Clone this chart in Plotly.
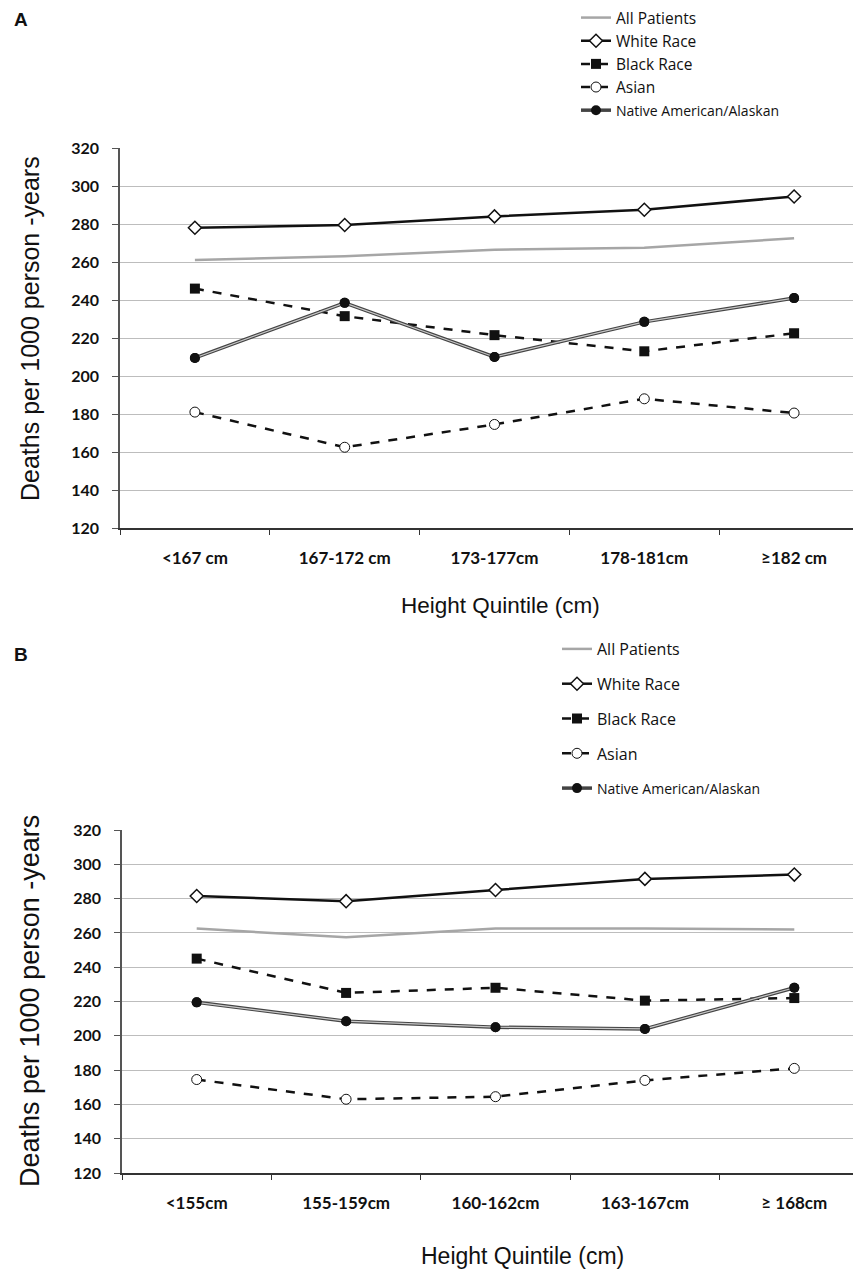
import plotly.graph_objects as go

# ---------------- data ----------------
cats_a = ["<167 cm", "167-172 cm", "173-177cm", "178-181cm", "≥182 cm"]
cats_b = ["<155cm", "155-159cm", "160-162cm", "163-167cm", "≥ 168cm"]

all_a = [261, 263, 266.5, 267.5, 272.5]
white_a = [278, 279.5, 284, 287.5, 294.5]
black_a = [246, 231.5, 221.5, 213, 222.5]
asian_a = [181, 162.5, 174.5, 188, 180.5]
native_a = [209.5, 238.5, 210, 228.5, 241]

all_b = [262.5, 257.5, 262.5, 262.5, 262]
white_b = [281.5, 278.5, 285, 291.5, 294]
black_b = [245, 225, 228, 220.5, 222]
asian_b = [174.5, 163, 164.5, 174, 181]
native_b = [219.5, 208.5, 205, 204, 228]

names = ["All Patients", "White Race", "Black Race", "Asian",
         "<span style='font-size:14px'>Native American/Alaskan</span>"]

LEG_FONT = "Open Sans"
TICK_FONT = "Lato"
TITLE_FONT = "Liberation Sans"

fig = go.Figure()


def add_panel(xa, ya, leg, cats, allp, white, black, asian, native, grp):
    common = dict(xaxis=xa, yaxis=ya, legend=leg, hoverinfo="skip")
    fig.add_trace(go.Scatter(x=cats, y=allp, name=names[0], mode="lines",
                             line=dict(color="#a6a6a6", width=2.5),
                             legendgroup=grp + "1", **common))
    fig.add_trace(go.Scatter(x=cats, y=white, name=names[1], mode="lines+markers",
                             line=dict(color="#111111", width=2.5),
                             marker=dict(symbol="diamond", size=10, color="white",
                                         line=dict(color="#111111", width=1.5)),
                             legendgroup=grp + "2", **common))
    fig.add_trace(go.Scatter(x=cats, y=black, name=names[2], mode="lines+markers",
                             line=dict(color="#111111", width=2.5, dash="dash"),
                             marker=dict(symbol="square", size=10, color="#111111"),
                             legendgroup=grp + "3", **common))
    fig.add_trace(go.Scatter(x=cats, y=asian, name=names[3], mode="lines+markers",
                             line=dict(color="#111111", width=2.5, dash="dash"),
                             marker=dict(symbol="circle", size=10, color="white",
                                         line=dict(color="#111111", width=1)),
                             legendgroup=grp + "4", **common))
    fig.add_trace(go.Scatter(x=cats, y=native, name=names[4], mode="lines+markers",
                             line=dict(color="#444444", width=3.5),
                             marker=dict(symbol="circle", size=10, color="#111111"),
                             legendgroup=grp + "5", **common))
    fig.add_trace(go.Scatter(x=cats, y=native, mode="lines", showlegend=False,
                             line=dict(color="#c8c8c8", width=1.2),
                             legendgroup=grp + "5", **common))
    fig.add_trace(go.Scatter(x=cats, y=native, mode="markers", showlegend=False,
                             marker=dict(symbol="circle", size=10, color="#111111"),
                             legendgroup=grp + "5", **common))


add_panel("x", "y", "legend", cats_a, all_a, white_a, black_a, asian_a, native_a, "a")
add_panel("x2", "y2", "legend2", cats_b, all_b, white_b, black_b, asian_b, native_b, "b")

W, H = 861, 1277
OFF = 8  # page body margin


def py(p):
    return 1 - (p - OFF) / H


def px(p):
    return (p - OFF) / W


yax = dict(range=[120, 320], dtick=20, showgrid=True, gridcolor="#bdbdbd", gridwidth=1,
           showline=True, linecolor="#555555", linewidth=1.5, ticks="outside", ticklen=6,
           tickcolor="#555555", zeroline=False, ticklabelstandoff=10,
           tickfont=dict(family=TICK_FONT, size=16, color="#111111", weight="bold"))
xax = dict(showgrid=False, showline=True, linecolor="#333333", linewidth=1.5,
           ticks="outside", ticklen=5, tickcolor="#333333", tickson="boundaries",
           ticklabelstandoff=14,
           tickfont=dict(family=TICK_FONT, size=17, color="#111111", weight="bold"),
           zeroline=False)

fig.update_layout(
    width=W, height=H,
    margin=dict(l=0, r=0, t=0, b=0, autoexpand=False),
    paper_bgcolor="white", plot_bgcolor="white",
    xaxis=dict(domain=[px(120), 1], range=[-0.5, 4.5], anchor="y", **xax),
    yaxis=dict(domain=[py(528), py(148)], anchor="x", **yax),
    xaxis2=dict(domain=[px(122), 1], range=[-0.5, 4.5], anchor="y2", **xax),
    yaxis2=dict(domain=[py(1173), py(830)], anchor="x2", **yax),
    legend=dict(x=px(576), y=py(1), xanchor="left", yanchor="top", traceorder="normal",
                font=dict(family=LEG_FONT, size=15.5, color="#111111"),
                bgcolor="rgba(0,0,0,0)", itemwidth=30),
    legend2=dict(x=px(557), y=py(632), xanchor="left", yanchor="top", traceorder="grouped",
                 tracegroupgap=11,
                 font=dict(family=LEG_FONT, size=16, color="#111111"),
                 bgcolor="rgba(0,0,0,0)", itemwidth=30),
    showlegend=True,
)

ann = []
ann.append(dict(text="<b>A</b>", x=px(12), y=py(20), xref="paper", yref="paper",
                showarrow=False, xanchor="left", yanchor="middle",
                font=dict(family=TITLE_FONT, size=19, color="#111111")))
ann.append(dict(text="<b>B</b>", x=px(12), y=py(654), xref="paper", yref="paper",
                showarrow=False, xanchor="left", yanchor="middle",
                font=dict(family=TITLE_FONT, size=19, color="#111111")))
ann.append(dict(text="Deaths per 1000 person -years", x=px(30), y=py(329), xref="paper",
                yref="paper", showarrow=False, textangle=-90, xanchor="center",
                yanchor="middle", font=dict(family=TITLE_FONT, size=25, color="#111111")))
ann.append(dict(text="Deaths per 1000 person -years", x=px(30), y=py(1001), xref="paper",
                yref="paper", showarrow=False, textangle=-90, xanchor="center",
                yanchor="middle", font=dict(family=TITLE_FONT, size=27, color="#111111")))
ann.append(dict(text="Height Quintile (cm)", x=px(501), y=py(606), xref="paper",
                yref="paper", showarrow=False, xanchor="center", yanchor="middle",
                font=dict(family=TITLE_FONT, size=22.5, color="#111111")))
ann.append(dict(text="Height Quintile (cm)", x=px(522), y=py(1256), xref="paper",
                yref="paper", showarrow=False, xanchor="center", yanchor="middle",
                font=dict(family=TITLE_FONT, size=23, color="#111111")))
fig.update_layout(annotations=ann)

fig.write_html("out.html")
